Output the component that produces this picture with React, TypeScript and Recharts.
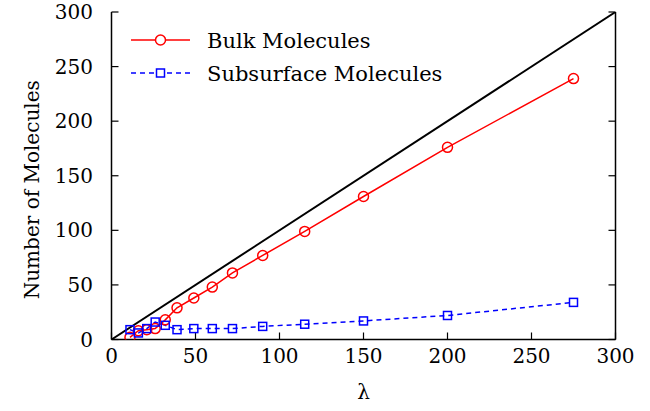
import React from 'react';
import { LineChart, Line, XAxis, YAxis } from 'recharts';

const lambda = [11, 16, 21, 26, 32, 39, 49, 60, 72, 90, 115, 150, 200, 275];
const bulk = [2, 8, 9, 10, 18, 29, 38, 48, 61, 77, 99, 131, 176, 239];
const subsurface = [9, 6, 10, 16, 13, 9, 10, 10, 10, 12, 14, 17, 22, 34];
const diagX = [0, 300];
const diagY = [0, 300];
const xTicks = [0, 50, 100, 150, 200, 250, 300];
const yTicks = [0, 50, 100, 150, 200, 250, 300];

const data = lambda.map((x, i) => ({ x, bulk: bulk[i], sub: subsurface[i] }));
const diag = diagX.map((x, i) => ({ x, y: diagY[i] }));

const FONT = 'DejaVu Serif';
const RED = '#ff0000';
const BLUE = '#0000ff';

const CircleDot = (props: any) => {
  const { cx, cy } = props;
  if (cx == null || cy == null) return null;
  return <circle cx={cx} cy={cy} r={5} fill="none" stroke={RED} strokeWidth={1.5} />;
};
const SquareDot = (props: any) => {
  const { cx, cy } = props;
  if (cx == null || cy == null) return null;
  return <rect x={cx - 4} y={cy - 4} width={8} height={8} fill="none" stroke={BLUE} strokeWidth={1.5} />;
};

const LegendBox = () => (
  <svg width={330} height={70} style={{ position: 'absolute', left: 131, top: 28, display: 'block' }}>
    <line x1={0} y1={12} x2={59} y2={12} stroke={RED} strokeWidth={1.5} />
    <circle cx={29.5} cy={12} r={5} fill="white" stroke={RED} strokeWidth={1.5} />
    <text x={76} y={12} dy="0.36em" fontFamily={FONT} fontSize={21} fill="#000">Bulk Molecules</text>
    <line x1={0} y1={45} x2={59} y2={45} stroke={BLUE} strokeWidth={1.5} strokeDasharray="5 4" />
    <rect x={25.5} y={41} width={8} height={8} fill="white" stroke={BLUE} strokeWidth={1.5} />
    <text x={76} y={45} dy="0.36em" fontFamily={FONT} fontSize={21} fill="#000">Subsurface Molecules</text>
  </svg>
);

const YLabel = (props: any) => {
  const vb = props.viewBox || {};
  const cx = 32;
  const cy = vb.y + vb.height / 2 + 14;
  return (
    <text x={cx} y={cy} transform={`rotate(-90, ${cx}, ${cy})`} textAnchor="middle" dominantBaseline="central" fontFamily={FONT} fontSize={20} fill="#000">
      Number of Molecules
    </text>
  );
};

const XLabel = (props: any) => {
  const vb = props.viewBox || {};
  const cx = vb.x + vb.width / 2;
  return (
    <text x={cx} y={392} textAnchor="middle" dominantBaseline="central" fontFamily={FONT} fontSize={20} fill="#000">
      λ
    </text>
  );
};

const tickStyle = { fill: '#000', fontFamily: FONT, fontSize: 20 };
const axisLine = { stroke: '#000', strokeWidth: 1.5 };
const tickLine = { stroke: '#000', strokeWidth: 1.2 };
const blank = () => '';

export default function App() {
  return (
    <div style={{ position: 'absolute', left: 0, top: 0, width: 650, height: 411, background: '#fff' }}>
      <LineChart width={650} height={411} data={data} margin={{ top: 12, right: 0, bottom: 0, left: 0 }}>
        <XAxis
          xAxisId="b"
          dataKey="x"
          type="number"
          domain={[0, 300]}
          ticks={xTicks}
          height={71.5}
          tickSize={-7}
          tickMargin={16.5}
          tick={tickStyle}
          axisLine={axisLine}
          tickLine={tickLine}
          allowDataOverflow
          label={<XLabel />}
        />
        <XAxis
          xAxisId="t"
          orientation="top"
          dataKey="x"
          type="number"
          domain={[0, 300]}
          ticks={xTicks}
          height={0}
          tickSize={-7}
          tickFormatter={blank}
          axisLine={axisLine}
          tickLine={tickLine}
          allowDataOverflow
        />
        <YAxis
          yAxisId="l"
          type="number"
          domain={[0, 300]}
          ticks={yTicks}
          width={111.5}
          tickSize={-7}
          tickMargin={25.5}
          tick={tickStyle}
          axisLine={axisLine}
          tickLine={tickLine}
          allowDataOverflow
          label={<YLabel />}
        />
        <YAxis
          yAxisId="r"
          orientation="right"
          type="number"
          domain={[0, 300]}
          ticks={yTicks}
          width={34.5}
          tickSize={-7}
          tickFormatter={blank}
          axisLine={axisLine}
          tickLine={tickLine}
          allowDataOverflow
        />
        <Line
          xAxisId="b"
          yAxisId="l"
          data={diag}
          dataKey="y"
          stroke="#000"
          strokeWidth={2}
          dot={false}
          isAnimationActive={false}
          legendType="none"
        />
        <Line
          xAxisId="b"
          yAxisId="l"
          dataKey="bulk"
          name="Bulk Molecules"
          stroke={RED}
          strokeWidth={1.5}
          dot={<CircleDot />}
          isAnimationActive={false}
        />
        <Line
          xAxisId="b"
          yAxisId="l"
          dataKey="sub"
          name="Subsurface Molecules"
          stroke={BLUE}
          strokeWidth={1.5}
          strokeDasharray="5 4"
          dot={<SquareDot />}
          isAnimationActive={false}
        />
      </LineChart>
      <LegendBox />
    </div>
  );
}
